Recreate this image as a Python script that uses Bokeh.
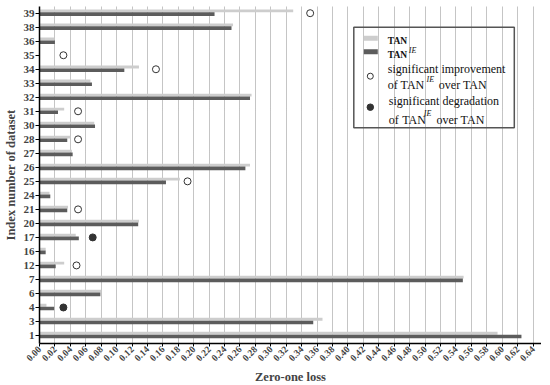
import math
from bokeh.plotting import figure
from bokeh.models import (Range1d, FixedTicker, PrintfTickFormatter,
                          BoxAnnotation, Label, ColumnDataSource)
from bokeh.embed import file_html
from bokeh.resources import INLINE

# ---------------- data ----------------
datasets = ["1", "3", "4", "6", "7", "12", "16", "17", "20", "21", "24", "25",
            "26", "27", "28", "30", "31", "32", "33", "34", "35", "36", "38", "39"]
tan = [0.594, 0.367, 0.009, 0.080, 0.550, 0.032, 0.008, 0.047, 0.129, 0.037, 0.013, 0.182,
       0.273, 0.042, 0.040, 0.071, 0.032, 0.275, 0.066, 0.129, 0.000, 0.019, 0.251, 0.329]
tan_ie = [0.625, 0.355, 0.019, 0.079, 0.549, 0.021, 0.008, 0.051, 0.128, 0.036, 0.014, 0.164,
          0.267, 0.043, 0.036, 0.072, 0.024, 0.273, 0.068, 0.110, 0.000, 0.020, 0.249, 0.227]
improved_ds = ["12", "21", "25", "28", "31", "34", "35", "39"]
improved_x = [0.048, 0.050, 0.192, 0.050, 0.050, 0.151, 0.031, 0.351]
degraded_ds = ["4", "17"]
degraded_x = [0.031, 0.069]
x_ticks = [0.00, 0.02, 0.04, 0.06, 0.08, 0.10, 0.12, 0.14, 0.16, 0.18, 0.20, 0.22,
           0.24, 0.26, 0.28, 0.30, 0.32, 0.34, 0.36, 0.38, 0.40, 0.42, 0.44, 0.46,
           0.48, 0.50, 0.52, 0.54, 0.56, 0.58, 0.60, 0.62, 0.64]

LIGHT = "#cdcdcd"
DARK = "#5c5c5c"
MARK = "#333333"
SERIF = "Liberation Serif"

# category slots on the y axis (one per dataset, bottom to top)
slot = {d: i for i, d in enumerate(datasets)}
y_slots = [slot[d] for d in datasets]

FRAME_L, FRAME_T, FRAME_W, FRAME_H = 39, 6, 502, 337

p = figure(frame_width=FRAME_W, frame_height=FRAME_H,
           y_range=Range1d(-0.571, len(datasets) - 1 + 0.478),
           x_range=Range1d(0, 0.651),
           output_backend="svg", toolbar_location=None,
           min_border_left=FRAME_L, min_border_right=0, min_border_top=FRAME_T,
           min_border_bottom=42)
p.outline_line_color = None
p.background_fill_color = "white"

# frame-pixel ranges for the hand-built legend (0,0 = frame top-left, y down)
p.extra_x_ranges = {"px": Range1d(0, FRAME_W)}
p.extra_y_ranges = {"px": Range1d(FRAME_H, 0)}

src = ColumnDataSource(dict(
    y_tan=[s + 0.16 for s in y_slots], y_ie=[s - 0.07 for s in y_slots],
    tan=tan, tan_ie=tan_ie))
p.hbar(y="y_tan", left=0, right="tan", height=0.2,
       source=src, fill_color=LIGHT, line_color=None)
p.hbar(y="y_ie", left=0, right="tan_ie", height=0.26,
       source=src, fill_color=DARK, line_color=None)

isrc = ColumnDataSource(dict(y=[slot[d] for d in improved_ds], x=improved_x))
dsrc = ColumnDataSource(dict(y=[slot[d] for d in degraded_ds], x=degraded_x))
p.scatter(x="x", y="y", source=isrc, size=7, fill_color="white", line_color=MARK, line_width=1)
p.scatter(x="x", y="y", source=dsrc, size=7, fill_color=MARK, line_color=MARK, line_width=1)

# grid
p.xgrid.grid_line_color = "#8a8a8a"
p.xgrid.grid_line_dash = "1 1"
p.ygrid.grid_line_color = None

# x axis
xa = p.xaxis[0]
xa.ticker = FixedTicker(ticks=x_ticks)
xa.formatter = PrintfTickFormatter(format="%.2f")
xa.major_label_orientation = math.pi / 4
xa.major_label_text_font = SERIF
xa.major_label_text_font_style = "bold"
xa.major_label_text_font_size = "9.5px"
xa.major_label_standoff = 1
xa.minor_tick_line_color = None
xa.major_tick_out = 3
xa.major_tick_in = 0
xa.axis_label = "Zero-one loss"
xa.axis_label_text_font = SERIF
xa.axis_label_text_font_style = "bold"
xa.axis_label_text_font_size = "12.5px"
xa.axis_label_standoff = 3
xa.axis_line_width = 1.5
xa.axis_line_color = "black"

# y axis
ya = p.yaxis[0]
ya.ticker = FixedTicker(ticks=y_slots)
ya.major_label_overrides = {s: d for s, d in zip(y_slots, datasets)}
ya.major_label_text_font = SERIF
ya.major_label_text_font_style = "bold"
ya.major_label_text_font_size = "11px"
ya.major_label_standoff = 1
ya.minor_tick_line_color = None
ya.major_tick_out = 4
ya.major_tick_in = 0
ya.axis_label = "Index number of dataset"
ya.axis_label_text_font = SERIF
ya.axis_label_text_font_style = "bold"
ya.axis_label_text_font_size = "12.5px"
ya.axis_label_standoff = 3
ya.axis_line_width = 1.5
ya.axis_line_color = "black"

# ---------------- legend (hand built, frame pixels) ----------------
def box(l, r, t, b, fill=None, line=None, lw=1.0):
    bx = BoxAnnotation(left=l, right=r, top=t, bottom=b,
                       x_range_name="px", y_range_name="px",
                       fill_color=fill if fill else "white",
                       fill_alpha=1 if fill else 0,
                       line_color=line if line else "black",
                       line_alpha=1 if line else 0, line_width=lw)
    p.add_layout(bx)

LX, LY = 314.3, 20.7   # legend box top-left inside the frame
box(LX, LX + 160.5, LY, LY + 100.5, line="#555555", lw=1.5)
box(LX + 10, LX + 24, LY + 8.5, LY + 13.5, fill=LIGHT)
box(LX + 10, LX + 24, LY + 22, LY + 27, fill=DARK)

p.scatter(x=[LX + 16.5], y=[LY + 49], x_range_name="px", y_range_name="px", size=6,
          fill_color="white", line_color=MARK, line_width=1)
p.scatter(x=[LX + 16.5], y=[LY + 80], x_range_name="px", y_range_name="px", size=6.5,
          fill_color=MARK, line_color=MARK, line_width=1)

def lab(dx, dy, text, size="12px", style="normal"):
    p.add_layout(Label(x=LX + dx, y=LY + dy, text=text, x_range_name="px", y_range_name="px",
                       text_font=SERIF, text_font_size=size, text_font_style=style,
                       text_baseline="alphabetic", text_align="left", text_color="#111111"))

lab(34, 14, "TAN", "9.5px", "bold")
lab(34, 27.6, "TAN", "9.5px", "bold")
lab(55, 23.3, "IE", "8px", "italic")
lab(34, 41.8, "significant improvement")
lab(34, 57.8, "of TAN")
lab(72.7, 51.8, "IE", "8px", "italic")
lab(85, 57.8, "over TAN")
lab(35, 73.8, "significant  degradation")
lab(35, 92.3, "of")
lab(48.4, 92.3, "TAN")
lab(70, 86.3, "IE", "8px", "italic")
lab(82.7, 92.3, "over TAN")

open("out.html", "w").write(file_html(p, INLINE))
